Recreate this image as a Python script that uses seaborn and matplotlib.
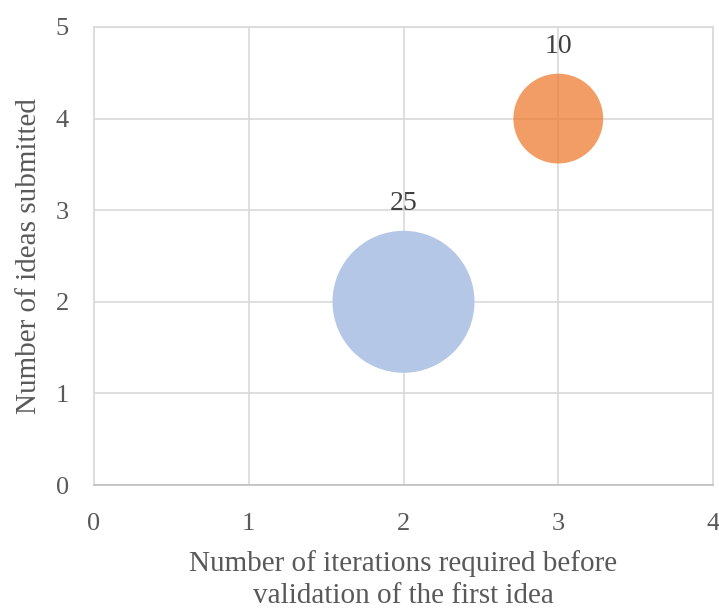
import matplotlib.pyplot as plt
import pandas as pd
import seaborn as sns

# bubble data
iterations = [2, 3]
ideas = [2, 4]
bubble_size = [25, 10]
bubble_colors = ["#B4C7E7", "#ED7D31"]
bubble_alpha = [1.0, 0.75]

x_ticks = [0, 1, 2, 3, 4]
y_ticks = [0, 1, 2, 3, 4, 5]

df = pd.DataFrame({"x": iterations, "y": ideas, "size": bubble_size})

sns.set_style("white")
plt.rcParams["font.family"] = ["Liberation Serif", "DejaVu Serif"]

fig = plt.figure(figsize=(7.19, 6.12), dpi=100)
ax = fig.add_axes([0.1307, 0.2075, 0.8610, 0.7484])

# area proportional sizes (points^2)
size_scale = 418
for i, row in df.iterrows():
    sns.scatterplot(
        data=df.iloc[[i]], x="x", y="y",
        s=row["size"] * size_scale,
        color=bubble_colors[i], alpha=bubble_alpha[i],
        edgecolor="none", linewidth=0, ax=ax, zorder=3, legend=False,
    )
    r_pt = (row["size"] * size_scale) ** 0.5 / 2
    ax.annotate(
        str(row["size"]), (row["x"], row["y"]),
        xytext=(0, r_pt + 15), textcoords="offset points",
        ha="center", va="baseline", fontsize=20, color="#404040", zorder=4,
    )

ax.set_xlim(0, 4)
ax.set_ylim(0, 5)
ax.set_xticks(x_ticks)
ax.set_yticks(y_ticks)
ax.grid(True, color="#D9D9D9", linewidth=1.2, zorder=0)
ax.set_axisbelow(True)
for side in ["top", "right", "left"]:
    ax.spines[side].set_color("#D9D9D9")
    ax.spines[side].set_linewidth(1.2)
ax.spines["bottom"].set_color("#BFBFBF")
ax.spines["bottom"].set_linewidth(1.2)

ax.tick_params(axis="both", length=0, labelsize=19, labelcolor="#595959")
ax.tick_params(axis="x", pad=20)
ax.tick_params(axis="y", pad=18)

ax.set_xlabel("Number of iterations required before\nvalidation of the first idea",
              fontsize=21, color="#595959", labelpad=11, linespacing=1.3)
ax.set_ylabel("Number of ideas submitted", fontsize=21, color="#595959", labelpad=10)

fig.savefig("out.png", dpi=100)
